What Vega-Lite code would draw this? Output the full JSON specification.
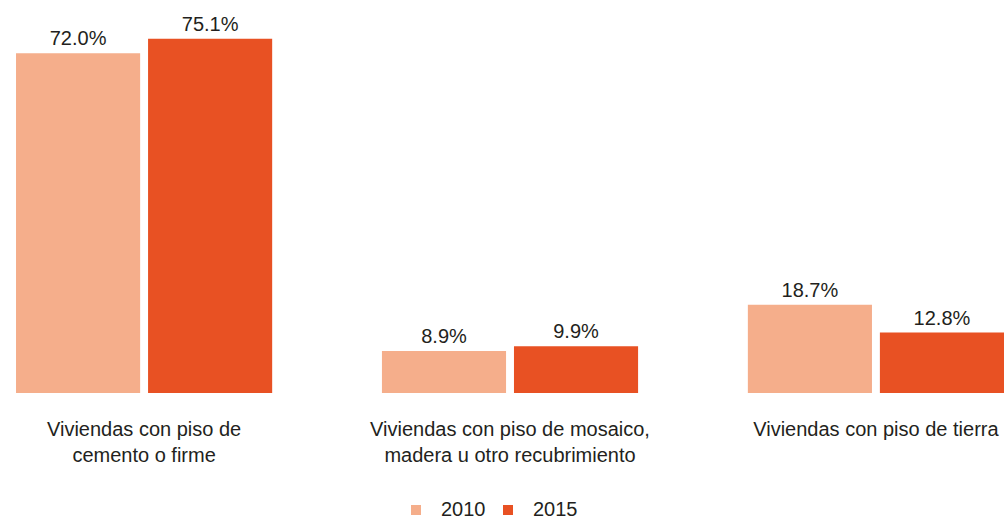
{
  "$schema": "https://vega.github.io/schema/vega-lite/v6.json",
  "width": 1004,
  "height": 393,
  "autosize": {"type": "none"},
  "padding": {"left": 0, "right": 0, "top": 0, "bottom": 127},
  "background": "white",
  "config": {
    "view": {"stroke": null},
    "font": "Liberation Sans",
    "text": {"font": "Liberation Sans"}
  },
  "data": {
    "values": [
      {"categoria": "Viviendas con piso de cemento o firme", "anio": "2010", "valor": 0.720},
      {"categoria": "Viviendas con piso de cemento o firme", "anio": "2015", "valor": 0.751},
      {"categoria": "Viviendas con piso de mosaico, madera u otro recubrimiento", "anio": "2010", "valor": 0.089},
      {"categoria": "Viviendas con piso de mosaico, madera u otro recubrimiento", "anio": "2015", "valor": 0.099},
      {"categoria": "Viviendas con piso de tierra", "anio": "2010", "valor": 0.187},
      {"categoria": "Viviendas con piso de tierra", "anio": "2015", "valor": 0.128}
    ]
  },
  "encoding": {
    "x": {
      "field": "categoria",
      "type": "nominal",
      "sort": null,
      "scale": {"paddingInner": 0.3, "paddingOuter": 0.0219, "align": 1},
      "axis": {
        "title": null,
        "domain": false,
        "ticks": false,
        "labelAngle": 0,
        "labelFontSize": 20,
        "labelColor": "#231f20",
        "labelPadding": 26,
        "labelLimit": 0,
        "labelLineHeight": 26,
        "labelExpr": "datum.value == 'Viviendas con piso de cemento o firme' ? ['Viviendas con piso de', 'cemento o firme'] : datum.value == 'Viviendas con piso de mosaico, madera u otro recubrimiento' ? ['Viviendas con piso de mosaico,', 'madera u otro recubrimiento'] : datum.value"
      }
    },
    "xOffset": {
      "field": "anio",
      "type": "nominal",
      "scale": {"paddingInner": 0.06, "paddingOuter": 0}
    },
    "y": {
      "field": "valor",
      "type": "quantitative",
      "scale": {"domain": [0, 0.833]},
      "axis": null
    }
  },
  "layer": [
    {
      "mark": {"type": "bar"},
      "encoding": {
        "color": {
          "field": "anio",
          "type": "nominal",
          "scale": {"domain": ["2010", "2015"], "range": ["#F5AE8B", "#E85123"]},
          "legend": {
            "title": null,
            "orient": "none",
            "legendX": 406,
            "legendY": 500,
            "direction": "horizontal",
            "symbolType": "square",
            "symbolSize": 100,
            "symbolStrokeWidth": 0,
            "labelFontSize": 20,
            "labelColor": "#231f20",
            "labelOffset": 15,
            "columnPadding": 12
          }
        }
      }
    },
    {
      "mark": {"type": "text", "baseline": "alphabetic", "dy": -8, "fontSize": 20, "color": "#231f20"},
      "encoding": {
        "text": {"field": "valor", "type": "quantitative", "format": ".1%"}
      }
    }
  ]
}
